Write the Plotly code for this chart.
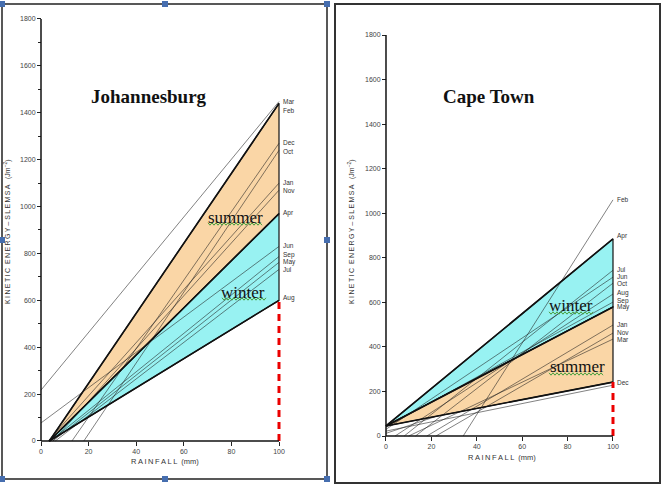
import plotly.graph_objects as go

W, H = 662, 484

# ---------------- data ----------------
# Johannesburg: month lines  (start point -> value at 100 mm rainfall)
jhb_months = ["Mar", "Feb", "Dec", "Oct", "Jan", "Nov", "Apr", "Jun", "Sep", "May", "Jul", "Aug"]
jhb_start_x = [0, 3.5, 13, 18, 3, 5, 3.5, 0, 4, 5, 6, 3.5]
jhb_start_y = [217, 0, 0, 0, 0, 0, 0, 77, 0, 0, 0, 0]
jhb_end_y = [1448, 1440, 1270, 1240, 1100, 1070, 970, 830, 787, 762, 732, 600]
jhb_label_y = [1448, 1410, 1274, 1236, 1104, 1070, 974, 832, 792, 764, 732, 608]
jhb_bounds = {"top": "Feb", "mid": "Apr", "bot": "Aug"}

# Cape Town
cpt_months = ["Feb", "Apr", "Jul", "Jun", "Oct", "Aug", "Sep", "May", "Jan", "Nov", "Mar", "Dec"]
cpt_start_x = [34, 0, 8, 0, 13, 4, 0, 0, 18, 22, 10, 0]
cpt_start_y = [0, 45, 0, 30, 0, 0, 40, 45, 0, 0, 0, 45]
cpt_end_y = [1060, 885, 744, 713, 686, 637, 601, 579, 498, 462, 435, 242]
cpt_label_y = [1063, 897, 748, 716, 684, 640, 608, 578, 500, 464, 432, 238]
cpt_bounds = {"top": "Apr", "mid": "May", "bot": "Dec"}
cpt_extra_start_y = [22, 12]
cpt_extra_end_y = [228, 150]
cpt_extra_end_x = [100, 40]

x_ticks = [0, 20, 40, 60, 80, 100]
y_ticks = [0, 200, 400, 600, 800, 1000, 1200, 1400, 1600, 1800]

ORANGE = "rgb(250,214,166)"
CYAN = "rgb(152,242,242)"

fig = go.Figure()


def px(x):
    return x / W


def py(y):
    return 1 - y / H


def setup_axes(n, x0p, x100p, y0p, y1800p, minor):
    sx = (x100p - x0p) / 100.0
    sy = (y0p - y1800p) / 1800.0
    xp0, xp1, yp0, yp1 = 1.5, 2.0, 14, 14
    xa = "xaxis" if n == 1 else "xaxis%d" % n
    ya = "yaxis" if n == 1 else "yaxis%d" % n
    tickfont = dict(family="Liberation Sans, Arial", size=7, color="#444")
    fig.layout[xa] = dict(
        domain=[px(x0p - xp0 * sx), px(x100p + xp1 * sx)],
        range=[-xp0, 100 + xp1], anchor="free", position=py(y0p),
        tickvals=x_ticks, ticks="outside", ticklen=4, tickcolor="#222",
        showgrid=False, zeroline=False, showline=False, tickfont=tickfont,
        fixedrange=True)
    yd = dict(
        domain=[py(y0p + yp0 * sy), py(y1800p - yp1 * sy)],
        range=[-yp0, 1800 + yp1], anchor="free", position=px(x0p),
        tickvals=y_ticks, ticks="outside", ticklen=4, tickcolor="#222",
        showgrid=False, zeroline=False, showline=False, tickfont=tickfont,
        fixedrange=True)
    if minor:
        yd["minor"] = dict(dtick=100, ticks="outside", ticklen=3, tickcolor="#222")
    fig.layout[ya] = yd
    xr = "x" if n == 1 else "x%d" % n
    yr = "y" if n == 1 else "y%d" % n
    # axis lines
    fig.add_shape(type="line", xref=xr, yref=yr, x0=0, x1=0, y0=0, y1=1800,
                  line=dict(color="#111", width=1.5))
    fig.add_shape(type="line", xref=xr, yref=yr, x0=0, x1=100, y0=0, y1=0,
                  line=dict(color="#111", width=1.5))
    return xr, yr


def panel(xr, yr, months, sxs, sys_, eys, lys, bounds, summer_top):
    idx = {m: i for i, m in enumerate(months)}
    t, m, b = idx[bounds["top"]], idx[bounds["mid"]], idx[bounds["bot"]]
    ax, ay = sxs[m], sys_[m]
    upper_col, lower_col = (ORANGE, CYAN) if summer_top else (CYAN, ORANGE)
    fig.add_trace(go.Scatter(x=[ax, 100, 100, ax], y=[ay, eys[t], eys[m], ay], fill="toself",
                             fillcolor=upper_col, mode="lines", line=dict(color="#111", width=1.2),
                             xaxis=xr, yaxis=yr, hoverinfo="skip", showlegend=False))
    fig.add_trace(go.Scatter(x=[ax, 100, 100, ax], y=[ay, eys[m], eys[b], ay], fill="toself",
                             fillcolor=lower_col, mode="lines", line=dict(color="#111", width=1.2),
                             xaxis=xr, yaxis=yr, hoverinfo="skip", showlegend=False))
    for i, mo in enumerate(months):
        bold = i in (t, m, b)
        fig.add_trace(go.Scatter(x=[sxs[i], 100], y=[sys_[i], eys[i]], mode="lines",
                                 line=dict(color="#111" if bold else "rgba(30,30,30,0.8)",
                                           width=1.6 if bold else 0.7),
                                 xaxis=xr, yaxis=yr, hoverinfo="skip", showlegend=False))
        fig.add_annotation(x=100, y=lys[i], xref=xr, yref=yr, text=mo, showarrow=False,
                           xanchor="left", xshift=3, borderpad=0,
                           font=dict(family="Liberation Sans, Arial", size=6.5, color="#333"))
    # red dashed extension at 100 mm
    fig.add_trace(go.Scatter(x=[100, 100], y=[0, eys[b]], mode="lines",
                             line=dict(color="rgb(235,0,0)", width=3, dash="7px,5px"),
                             xaxis=xr, yaxis=yr, hoverinfo="skip", showlegend=False))


xr1, yr1 = setup_axes(1, 41, 279, 441, 19, True)
panel(xr1, yr1, jhb_months, jhb_start_x, jhb_start_y, jhb_end_y, jhb_label_y, jhb_bounds, True)

xr2, yr2 = setup_axes(2, 386, 613, 436, 35, False)
for sy0, ey, ex in zip(cpt_extra_start_y, cpt_extra_end_y, cpt_extra_end_x):
    fig.add_trace(go.Scatter(x=[0, ex], y=[sy0, ey], mode="lines",
                             line=dict(color="rgba(30,30,30,0.8)", width=0.7),
                             xaxis=xr2, yaxis=yr2, hoverinfo="skip", showlegend=False))
panel(xr2, yr2, cpt_months, cpt_start_x, cpt_start_y, cpt_end_y, cpt_label_y, cpt_bounds, False)

# ---------------- text ----------------
serif = "Liberation Serif, Times New Roman, serif"


def text(xp, yp, s, size, fam, color="#111", angle=0):
    fig.add_annotation(x=px(xp), y=py(yp), xref="paper", yref="paper", text=s, showarrow=False,
                       xanchor="center", yanchor="middle", textangle=angle,
                       font=dict(family=fam, size=size, color=color))


def squiggle(x0, x1, y):
    pts = []
    x = x0
    k = 0
    while x <= x1:
        pts.append((px(x), py(y + (1.2 if k % 2 else -1.2))))
        x += 2
        k += 1
    path = "M " + " L ".join("%.5f,%.5f" % p for p in pts)
    fig.add_shape(type="path", xref="paper", yref="paper", path=path,
                  line=dict(color="rgb(70,160,60)", width=1))


text(149, 97, "<b>Johannesburg</b>", 19, serif)
text(489, 97, "<b>Cape Town</b>", 19, serif)
text(235, 217, "summer", 17, serif)
text(243, 292, "winter", 17, serif)
text(571, 305, "winter", 17, serif)
text(577, 366, "summer", 17, serif)
squiggle(208, 262, 224)
squiggle(222, 266, 299)
squiggle(549, 593, 313)
squiggle(549, 604, 374)

sans = "Liberation Sans, Arial"
sp = "\u2009"
rain = sp.join("RAINFALL") + "  (mm)"
text(165, 461, rain, 7.5, sans, "#333")
text(502, 457, rain, 7.5, sans, "#333")
ke = sp.join("KINETIC") + "  " + sp.join("ENERGY") + " – " + sp.join("SLEMSA") + "   (Jm<sup>−2</sup>)"
text(8, 232, ke, 7, sans, "#333", -90)
text(352, 232, ke, 7, sans, "#333", -90)

# ---------------- frames and handles ----------------
fig.add_shape(type="rect", xref="paper", yref="paper", x0=px(2), x1=px(327), y0=py(479), y1=py(4),
              line=dict(color="#222", width=1.5))
fig.add_shape(type="rect", xref="paper", yref="paper", x0=px(335), x1=px(660), y0=py(483), y1=py(4),
              line=dict(color="#333", width=2))
for hx in (2, 165, 327):
    for hy in (4, 240, 479):
        if hx == 165 and hy == 240:
            continue
        fig.add_shape(type="rect", xref="paper", yref="paper", x0=px(hx - 3), x1=px(hx + 3),
                      y0=py(hy + 3), y1=py(hy - 3), line=dict(width=0),
                      fillcolor="rgb(70,110,175)")

fig.update_layout(width=W, height=H, margin=dict(l=0, r=0, t=0, b=0),
                  paper_bgcolor="white", plot_bgcolor="rgba(0,0,0,0)", showlegend=False)

fig.write_html("out.html")
